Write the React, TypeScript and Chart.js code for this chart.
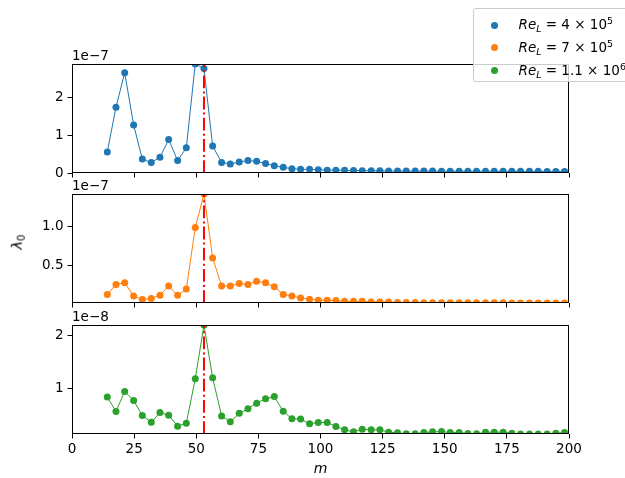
import React, { useEffect, useRef } from 'react';
import { Chart, registerables } from 'chart.js';

Chart.register(...registerables);

// Mode number m (x positions of the markers)
const mValues = [
  14.2, 17.7, 21.2, 24.8, 28.3, 31.9, 35.4, 38.9, 42.5, 46.0, 49.6, 53.1, 56.6, 60.2, 63.7,
  67.3, 70.8, 74.3, 77.9, 81.4, 85.0, 88.5, 92.0, 95.6, 99.1, 102.7, 106.2, 109.7, 113.3,
  116.8, 120.4, 123.9, 127.4, 131.0, 134.5, 138.1, 141.6, 145.1, 148.7, 152.2, 155.8, 159.3,
  162.8, 166.4, 169.9, 173.5, 177.0, 180.5, 184.1, 187.6, 191.2, 194.7, 198.2,
];

// lambda_0 for Re_L = 4e5, in units of 1e-7
const lambdaRe4e5 = [
  0.56, 1.75, 2.67, 1.28, 0.37, 0.28, 0.42, 0.89, 0.33, 0.67, 2.9, 2.78, 0.72, 0.28, 0.24,
  0.29, 0.33, 0.31, 0.25, 0.195, 0.15, 0.115, 0.097, 0.097, 0.088, 0.075, 0.075, 0.07, 0.065,
  0.062, 0.06, 0.058, 0.055, 0.055, 0.052, 0.05, 0.05, 0.05, 0.048, 0.048, 0.047, 0.047,
  0.046, 0.046, 0.045, 0.045, 0.045, 0.044, 0.044, 0.044, 0.043, 0.043, 0.043,
];

// lambda_0 for Re_L = 7e5, in units of 1e-7
const lambdaRe7e5 = [
  0.13, 0.26, 0.28, 0.11, 0.065, 0.08, 0.12, 0.24, 0.12, 0.2, 0.99, 1.42, 0.6, 0.24, 0.24,
  0.27, 0.26, 0.3, 0.28, 0.23, 0.13, 0.11, 0.086, 0.07, 0.056, 0.056, 0.052, 0.043, 0.043,
  0.042, 0.035, 0.035, 0.034, 0.027, 0.026, 0.026, 0.025, 0.025, 0.025, 0.024, 0.024, 0.024,
  0.023, 0.023, 0.023, 0.023, 0.022, 0.022, 0.022, 0.022, 0.021, 0.021, 0.021,
];

// lambda_0 for Re_L = 1.1e6, in units of 1e-8
const lambdaRe11e6 = [
  0.835, 0.555, 0.94, 0.765, 0.48, 0.35, 0.535, 0.485, 0.275, 0.33, 1.18, 2.21, 1.2, 0.47,
  0.36, 0.52, 0.61, 0.715, 0.8, 0.84, 0.56, 0.415, 0.41, 0.32, 0.345, 0.345, 0.27, 0.205,
  0.166, 0.218, 0.205, 0.205, 0.16, 0.147, 0.128, 0.128, 0.153, 0.166, 0.172, 0.153, 0.153,
  0.134, 0.128, 0.16, 0.16, 0.16, 0.14, 0.125, 0.125, 0.125, 0.125, 0.14, 0.153,
];

const peakM = 53.1;

const xTicks = [0, 25, 50, 75, 100, 125, 150, 175, 200];
const yTicksTop = [0, 1, 2];
const yTicksMid = [0.5, 1.0];
const yTicksBot = [1, 2];

const legendLabels = [
  { base: '4', exp: '5' },
  { base: '7', exp: '5' },
  { base: '1.1', exp: '6' },
];

const COLORS = ['#1f77b4', '#ff7f0e', '#2ca02c'];
const FONT = 'DejaVu Sans';
const FS = 13.5;
const W = 625;
const H = 478;
const AREA_LEFT = 72;
const AREA_RIGHT = 569;
const Y_W = 50;

type PanelCfg = {
  values: number[];
  color: string;
  top: number;
  bottom: number;
  yMin: number;
  yTicks: number[];
  decimals: number;
  offsetLabel: string;
  showX: boolean;
};

const panels: PanelCfg[] = [
  { values: lambdaRe4e5, color: COLORS[0], top: 64, bottom: 173, yMin: 0, yTicks: yTicksTop, decimals: 0, offsetLabel: '1e\u22127', showX: false },
  { values: lambdaRe7e5, color: COLORS[1], top: 194, bottom: 303, yMin: Math.min(...lambdaRe7e5), yTicks: yTicksMid, decimals: 1, offsetLabel: '1e\u22127', showX: false },
  { values: lambdaRe11e6, color: COLORS[2], top: 325, bottom: 434, yMin: Math.min(...lambdaRe11e6), yTicks: yTicksBot, decimals: 0, offsetLabel: '1e\u22128', showX: true },
];

function framePlugin(label: string) {
  return {
    id: 'frame',
    afterDraw(chart: any) {
      const { ctx, chartArea } = chart;
      const l = Math.round(chartArea.left) + 0.5;
      const t = Math.round(chartArea.top) + 0.5;
      const r = Math.round(chartArea.right) - 0.5;
      const b = Math.round(chartArea.bottom) - 0.5;
      ctx.save();
      ctx.strokeStyle = '#000';
      ctx.lineWidth = 1;
      ctx.strokeRect(l, t, r - l, b - t);
      ctx.fillStyle = '#000';
      ctx.font = `${FS}px "${FONT}"`;
      ctx.textAlign = 'left';
      ctx.textBaseline = 'alphabetic';
      ctx.fillText(label, chartArea.left, chartArea.top - 4);
      ctx.restore();
    },
  };
}

function makeChart(canvas: HTMLCanvasElement, p: PanelCfg) {
  const yMax = Math.max(...p.values);
  const xH = p.showX ? H - p.bottom : 5;
  const font = { family: FONT, size: FS };
  const gridOpts = {
    display: true,
    drawOnChartArea: false,
    drawTicks: true,
    tickLength: 4.5,
    color: '#000',
    lineWidth: 1,
  };
  return new Chart(canvas, {
    type: 'line',
    data: {
      datasets: [
        {
          data: [
            { x: peakM, y: p.yMin },
            { x: peakM, y: yMax },
          ],
          borderColor: '#ff0000',
          borderWidth: 2,
          borderDash: [12.8, 3.2, 2, 3.2],
          pointRadius: 0,
          clip: 0,
          order: 0,
        } as any,
        {
          data: mValues.map((m, i) => ({ x: m, y: p.values[i] })),
          borderColor: p.color,
          backgroundColor: p.color,
          borderWidth: 1,
          pointRadius: 3.5,
          pointBorderWidth: 0,
          pointBackgroundColor: p.color,
          tension: 0,
          clip: 0,
          order: 1,
        } as any,
      ],
    },
    options: {
      animation: false,
      responsive: false,
      maintainAspectRatio: false,
      events: [],
      layout: {
        padding: {
          left: AREA_LEFT - Y_W,
          right: W - AREA_RIGHT,
          top: p.top,
          bottom: H - p.bottom - xH,
        },
      },
      plugins: { legend: { display: false }, tooltip: { enabled: false } },
      scales: {
        x: {
          type: 'linear',
          min: 0,
          max: 200,
          afterBuildTicks: (s: any) => {
            s.ticks = xTicks.map((v) => ({ value: v }));
          },
          afterFit: (s: any) => {
            s.height = xH;
          },
          grid: gridOpts,
          border: { display: false },
          ticks: {
            display: p.showX,
            padding: 3,
            color: '#000',
            font,
            maxRotation: 0,
            callback: (v: any) => String(v),
          },
          title: {
            display: p.showX,
            text: 'm',
            color: '#000',
            font: { family: FONT, size: FS + 0.5, style: 'italic' },
            padding: { top: 0, bottom: 0 },
          },
        },
        y: {
          type: 'linear',
          min: p.yMin,
          max: yMax,
          afterBuildTicks: (s: any) => {
            s.ticks = p.yTicks.map((v) => ({ value: v }));
          },
          afterFit: (s: any) => {
            s.width = Y_W;
          },
          grid: gridOpts,
          border: { display: false },
          ticks: {
            padding: 4,
            color: '#000',
            font,
            callback: (v: any) => Number(v).toFixed(p.decimals),
          },
        },
      },
    } as any,
    plugins: [framePlugin(p.offsetLabel)],
  });
}

export default function App() {
  const r0 = useRef<HTMLCanvasElement>(null);
  const r1 = useRef<HTMLCanvasElement>(null);
  const r2 = useRef<HTMLCanvasElement>(null);

  useEffect(() => {
    const refs = [r0, r1, r2];
    const charts = panels.map((p, i) => makeChart(refs[i].current as HTMLCanvasElement, p));
    return () => charts.forEach((c) => c.destroy());
  }, []);

  const canvasStyle: React.CSSProperties = { position: 'absolute', left: 0, top: 0 };

  return (
    <div
      style={{
        position: 'fixed',
        left: 0,
        top: 0,
        width: W,
        height: H,
        overflow: 'hidden',
        background: '#fff',
        fontFamily: FONT,
        color: '#000',
      }}
    >
      <canvas ref={r0} width={W} height={H} style={canvasStyle} />
      <canvas ref={r1} width={W} height={H} style={canvasStyle} />
      <canvas ref={r2} width={W} height={H} style={canvasStyle} />

      <div
        style={{
          position: 'absolute',
          left: 17,
          top: 242,
          transform: 'translate(-50%, -50%) rotate(-90deg)',
          fontSize: FS + 1,
          whiteSpace: 'nowrap',
          lineHeight: 1,
        }}
      >
        <span style={{ fontStyle: 'italic' }}>λ</span>
        <sub style={{ fontSize: '70%', verticalAlign: '-0.25em', lineHeight: 0 }}>0</sub>
      </div>

      <div
        style={{
          position: 'absolute',
          left: 473,
          top: 8,
          width: 170,
          height: 74,
          border: '1px solid #cccccc',
          borderRadius: 3,
          background: 'rgba(255,255,255,0.8)',
          boxSizing: 'border-box',
        }}
      >
        {legendLabels.map((lab, i) => (
          <div
            key={i}
            style={{
              position: 'absolute',
              left: 0,
              top: 5 + i * 22.8,
              height: 22,
              display: 'flex',
              alignItems: 'center',
              whiteSpace: 'nowrap',
              fontSize: FS,
              lineHeight: 1,
            }}
          >
            <span
              style={{
                display: 'inline-block',
                width: 7,
                height: 7,
                borderRadius: '50%',
                background: COLORS[i],
                marginLeft: 16.5,
                marginRight: 21,
              }}
            />
            <span>
              <i>Re</i>
              <sub style={{ fontSize: '70%', verticalAlign: '-0.3em', lineHeight: 0 }}>
                <i>L</i>
              </sub>
              {` = ${lab.base} \u00d7 10`}
              <sup style={{ fontSize: '70%', verticalAlign: '0.5em', lineHeight: 0 }}>{lab.exp}</sup>
            </span>
          </div>
        ))}
      </div>
    </div>
  );
}
